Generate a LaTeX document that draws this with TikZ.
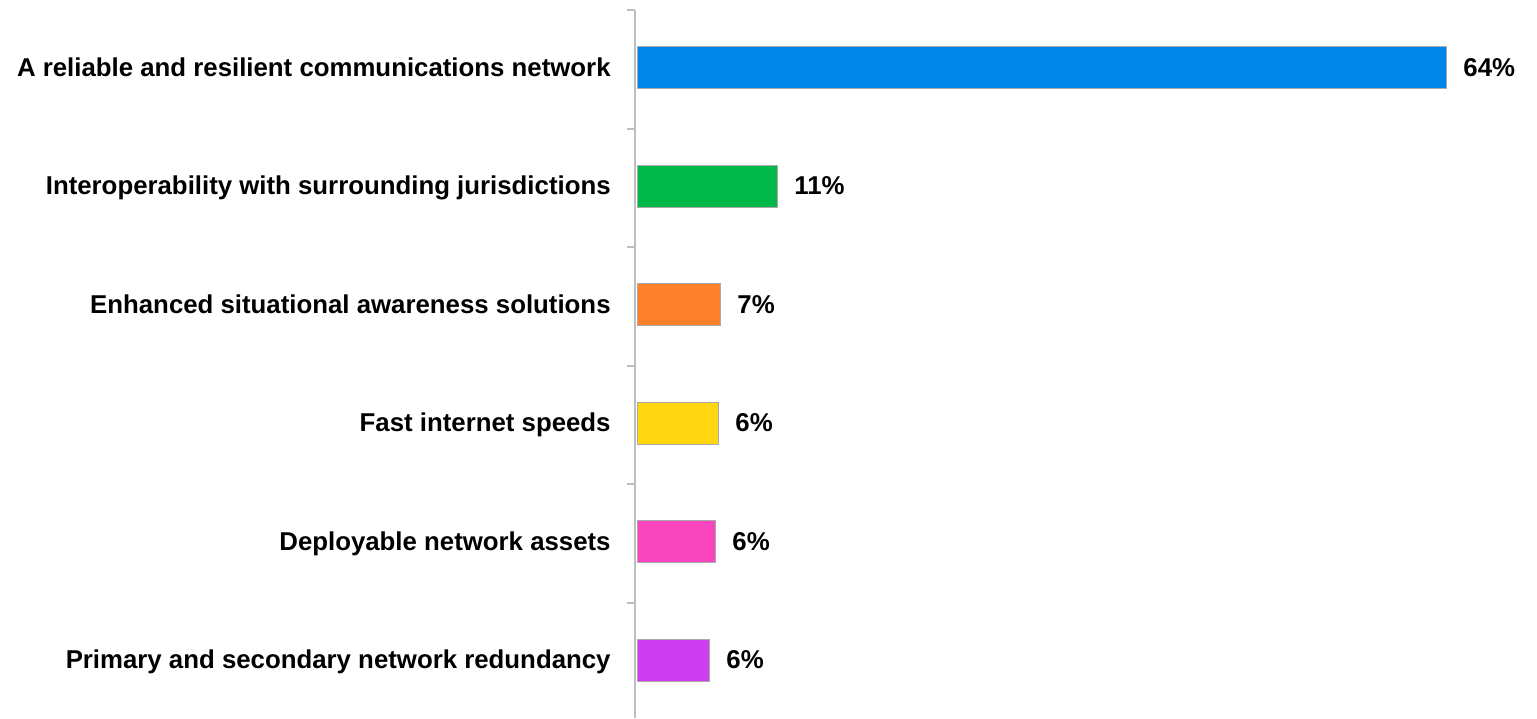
\documentclass[tikz,border=0pt]{standalone}
\usepackage{fontspec}
\setmainfont{Liberation Sans}
\usepackage{xcolor}

\definecolor{axisgray}{RGB}{190,190,190}
\definecolor{edgegray}{RGB}{170,170,170}
\definecolor{barblue}{RGB}{0,134,232}
\definecolor{bargreen}{RGB}{0,184,74}
\definecolor{barorange}{RGB}{255,128,42}
\definecolor{baryellow}{RGB}{255,214,16}
\definecolor{barpink}{RGB}{250,70,190}
\definecolor{barpurple}{RGB}{205,62,240}

\begin{document}
\begin{tikzpicture}[x=0.5pt,y=-0.5pt,
    barlabel/.style={anchor=base east,inner sep=0pt,font=\bfseries\fontsize{12.9}{15}\selectfont},
    barvalue/.style={anchor=base west,inner sep=0pt,font=\bfseries\fontsize{12.9}{15}\selectfont},
    barbox/.style={draw=edgegray,line width=0.5pt}]
  \useasboundingbox (0,0) rectangle (1537,718);

  % Axis and ticks
  \coordinate (axtop) at (635,10);
  \coordinate (axbot) at (635,718);
  \draw[axisgray,line width=1pt] (axtop) -- (axbot);
  \foreach \k in {0,...,5}
  {
    \draw[axisgray,line width=1pt] (627,10+118.5*\k) -- (635,10+118.5*\k);
  }

  % Bars, labels and values
  \foreach \k/\w/\c/\t/\v in {
      0/809/barblue/A reliable and resilient communications network/64\%,
      1/140/bargreen/Interoperability with surrounding jurisdictions/11\%,
      2/83/barorange/Enhanced situational awareness solutions/7\%,
      3/81/baryellow/Fast internet speeds/6\%,
      4/78/barpink/Deployable network assets/6\%,
      5/72/barpurple/Primary and secondary network redundancy/6\%}
  {
    \draw[barbox,fill=\c] (637,46.5+118.5*\k) rectangle ++(\w,42);
    \coordinate (end\k) at (637+\w,76+118.5*\k);
    \node[barlabel] (label\k) at (611,76+118.5*\k) {\t};
    \node[barvalue] (value\k) at ([xshift=8.5pt]end\k) {\v};
  }
\end{tikzpicture}
\end{document}
